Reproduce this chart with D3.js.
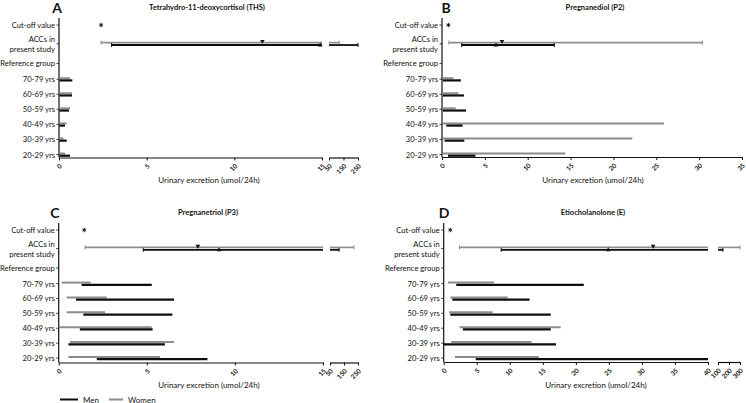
<!DOCTYPE html>
<html><head><meta charset="utf-8">
<script src="https://cdn.jsdelivr.net/npm/d3@7"></script>
<style>
body{margin:0;background:#fff}
svg{display:block}
text{font-family:Lato,"Open Sans",sans-serif;fill:#111}
</style>
</head><body>
<svg id="chart" width="746" height="403"></svg>
<script>
// ---------- data ----------
const rowLabels = ["Cut-off value", "ACCs in|present study", "Reference group",
  "70-79 yrs", "60-69 yrs", "50-59 yrs", "40-49 yrs", "30-39 yrs", "20-29 yrs"];
const ageGroups = ["70-79 yrs", "60-69 yrs", "50-59 yrs", "40-49 yrs", "30-39 yrs", "20-29 yrs"];
const panelLetters = ["A", "B", "C", "D"];
const panelTitles = ["Tetrahydro-11-deoxycortisol (THS)", "Pregnanediol (P2)", "Pregnanetriol (P3)", "Etiocholanolone (E)"];
const xAxisTitle = "Urinary excretion (umol/24h)";
const legendLabels = ["Men", "Women"];

// tick labels
const ticksA = [0, 5, 10, 15], breakTicksA = [50, 150, 250];
const ticksB = [0, 5, 10, 15, 20, 25, 30, 35];
const ticksC = [0, 5, 10, 15], breakTicksC = [50, 150, 250];
const ticksD = [0, 5, 10, 15, 20, 25, 30, 35, 40], breakTicksD = [100, 200, 300];

// THS
const thsCutoff = 2.4;
const thsAccWomen = [2.4, 11.6, 120];   // min, median, max
const thsAccMen = [3.0, 14.9, 250];
const thsRefWomen = [[0.02,0.63],[0.02,0.74],[0.02,0.63],[0.02,0.44],[0.02,0.25],[0.02,0.34]];
const thsRefMen   = [[0.02,0.76],[0.02,0.74],[0.02,0.57],[0.02,0.34],[0.02,0.44],[0.02,0.63]];
// P2
const p2Cutoff = 0.75;
const p2AccWomen = [0.8, 7.0, 30.4];
const p2AccMen = [2.3, 6.3, 13.1];
const p2RefWomen = [[0.1,1.35],[0.1,1.9],[0.1,1.6],[0.1,25.9],[0.1,22.2],[0.1,14.4]];
const p2RefMen   = [[0.1,2.2],[0.1,2.57],[0.1,2.8],[0.5,2.4],[0.3,2.6],[0.7,3.9]];
// P3
const p3Cutoff = 1.45;
const p3AccWomen = [1.5, 7.9, 221];
const p3AccMen = [4.8, 9.1, 115];
const p3RefWomen = [[0.17,1.82],[0.45,2.73],[0.45,2.63],[0.0,5.28],[0.64,6.55],[0.55,5.75]];
const p3RefMen   = [[1.3,5.28],[0.98,6.55],[1.4,6.45],[1.2,5.33],[0.55,6.03],[2.16,8.44]];
// Etiocholanolone
const eCutoff = 1.0;
const eAccWomen = [2.4, 31.7, 300];
const eAccMen = [8.7, 24.9, 145];
const eRefWomen = [[0.65,7.6],[1.0,9.7],[0.8,7.4],[2.4,17.7],[1.15,13.3],[1.7,14.4]];
const eRefMen   = [[1.9,21.2],[1.3,13.0],[1.0,16.2],[2.9,16.2],[0.0,17.0],[4.85,40]];

// ---------- drawing ----------
const svg = d3.select("#chart");
const MEN = "#0d0d0d", WOMEN = "#8c8c8c";
const slots = [0, 1.25, 2.55, 3.6, 4.6, 5.6, 6.6, 7.6, 8.6];

const panels = [
  {letter: panelLetters[0], title: panelTitles[0], x0: 59, x1: 322, dom1: [0, 15], ticks: ticksA,
   x2a: 329, x2b: 358, dom2: [50, 250], ticks2: breakTicksA,
   cutoff: thsCutoff, accW: thsAccWomen, accM: thsAccMen, refW: thsRefWomen, refM: thsRefMen,
   yTop: 25, yBot: 154.5, axisY: 157.5, axisTop: 18, letterX: 57, titleX: 207, labelX: 209},
  {letter: panelLetters[1], title: panelTitles[1], x0: 442, x1: 742, dom1: [0, 35], ticks: ticksB,
   cutoff: p2Cutoff, accW: p2AccWomen, accM: p2AccMen, refW: p2RefWomen, refM: p2RefMen,
   yTop: 25, yBot: 154.5, axisY: 157, axisTop: 18, letterX: 446, titleX: 595, labelX: 593},
  {letter: panelLetters[2], title: panelTitles[2], x0: 58.7, x1: 323, dom1: [0, 15], ticks: ticksC,
   x2a: 330, x2b: 358, dom2: [50, 250], ticks2: breakTicksC,
   cutoff: p3Cutoff, accW: p3AccWomen, accM: p3AccMen, refW: p3RefWomen, refM: p3RefMen,
   yTop: 230, yBot: 358, axisY: 362.5, axisTop: 223, letterX: 55, titleX: 208, labelX: 209},
  {letter: panelLetters[3], title: panelTitles[3], x0: 443.7, x1: 708, dom1: [0, 40], ticks: ticksD,
   x2a: 718, x2b: 740, dom2: [100, 300], ticks2: breakTicksD,
   cutoff: eCutoff, accW: eAccWomen, accM: eAccMen, refW: eRefWomen, refM: eRefMen,
   yTop: 230, yBot: 358, axisY: 362, axisTop: 223, letterX: 444, titleX: 593, labelX: 596}
];

panels.forEach(p => {
  const g = svg.append("g");
  const segs = [{s: d3.scaleLinear().domain(p.dom1).range([p.x0, p.x1]), ticks: p.ticks}];
  if (p.dom2) segs.push({s: d3.scaleLinear().domain(p.dom2).range([p.x2a, p.x2b]), ticks: p.ticks2});
  const y = d3.scaleLinear().domain([0, 8.6]).range([p.yTop, p.yBot]);

  // letter + title
  g.append("text").attr("x", p.letterX).attr("y", p.yTop - 12)
    .attr("text-anchor", "middle").attr("font-size", 14).attr("font-weight", 700).text(p.letter);
  g.append("text").attr("x", p.titleX).attr("y", p.yTop - 15)
    .attr("text-anchor", "middle").attr("font-size", 7.5).attr("font-weight", 700).text(p.title);

  // y axis
  g.append("line").attr("x1", p.x0).attr("x2", p.x0).attr("y1", p.axisTop).attr("y2", p.axisY)
    .attr("stroke", "#111").attr("stroke-width", 1.2);
  rowLabels.forEach((lab, i) => {
    const yy = y(slots[i]);
    g.append("line").attr("x1", p.x0 - 2.5).attr("x2", p.x0).attr("y1", yy).attr("y2", yy)
      .attr("stroke", "#111").attr("stroke-width", 0.8);
    const parts = lab.split("|");
    const t = g.append("text").attr("x", p.x0 - 4).attr("text-anchor", "end").attr("font-size", 7.6);
    parts.forEach((pt, k) => {
      t.append("tspan").attr("x", p.x0 - 4)
        .attr("y", yy + 3 + (k - (parts.length - 1) / 2) * 10).text(pt);
    });
  });

  // x axes (broken)
  segs.forEach(sg => {
    const ax = g.append("g").attr("transform", `translate(0,${p.axisY})`)
      .call(d3.axisBottom(sg.s).tickValues(sg.ticks).tickSize(3).tickSizeOuter(0));
    ax.select(".domain").attr("stroke", "#111").attr("stroke-width", 1.2);
    ax.selectAll(".tick line").attr("stroke", "#111");
    ax.selectAll(".tick text").attr("font-size", 6.5).attr("font-weight", 700)
      .attr("font-family", "Lato, sans-serif").attr("fill", "#111")
      .attr("text-anchor", "end").attr("dy", null).attr("y", 0)
      .attr("transform", "translate(3,9) rotate(-45)");
  });
  g.append("text").attr("x", p.labelX).attr("y", p.axisY + 25.5).attr("text-anchor", "middle")
    .attr("font-size", 8).text(xAxisTitle);

  function range(a, b, yy, color, w, caps) {
    segs.forEach(sg => {
      const [d0, d1] = sg.s.domain();
      if (b < d0 || a > d1) return;
      const xa = sg.s(Math.max(a, d0)), xb = sg.s(Math.min(b, d1));
      g.append("line").attr("x1", xa).attr("x2", xb).attr("y1", yy).attr("y2", yy)
        .attr("stroke", color).attr("stroke-width", w);
      if (caps) {
        [[a, xa], [b, xb]].forEach(([v, xv]) => {
          if (v >= d0 && v <= d1) g.append("line").attr("x1", xv).attr("x2", xv)
            .attr("y1", yy - 2).attr("y2", yy + 2).attr("stroke", color).attr("stroke-width", 1);
        });
      }
    });
  }
  function xOf(v) {
    for (const sg of segs) { const [d0, d1] = sg.s.domain(); if (v >= d0 && v <= d1) return sg.s(v); }
    return null;
  }

  // cut-off
  g.append("path").attr("d", d3.symbol(d3.symbolAsterisk, 14)())
    .attr("transform", `translate(${xOf(p.cutoff)},${y(slots[0])})`)
    .attr("stroke", "#111").attr("stroke-width", 0.9).attr("fill", "none");

  // ACCs
  const ya = y(slots[1]);
  range(p.accW[0], p.accW[2], ya - 1.2, WOMEN, 1.6, true);
  range(p.accM[0], p.accM[2], ya + 1.2, MEN, 1.8, true);
  g.append("path").attr("d", d3.symbol(d3.symbolTriangle, 9)())
    .attr("transform", `translate(${xOf(p.accW[1])},${ya - 2.6}) rotate(180)`).attr("fill", "#111");
  g.append("path").attr("d", d3.symbol(d3.symbolTriangle, 9)())
    .attr("transform", `translate(${xOf(p.accM[1])},${ya + 1.4})`).attr("fill", "#111");

  // reference groups
  ageGroups.forEach((ag, i) => {
    const yy = y(slots[3 + i]);
    range(p.refW[i][0], p.refW[i][1], yy - 1, WOMEN, 2, false);
    range(p.refM[i][0], p.refM[i][1], yy + 1.2, MEN, 2.2, false);
  });
});

// legend
const lg = svg.append("g");
lg.append("line").attr("x1", 60).attr("x2", 78).attr("y1", 399.5).attr("y2", 399.5).attr("stroke", MEN).attr("stroke-width", 2);
lg.append("text").attr("x", 83).attr("y", 402.5).attr("font-size", 8).text(legendLabels[0]);
lg.append("line").attr("x1", 109).attr("x2", 123).attr("y1", 399.5).attr("y2", 399.5).attr("stroke", WOMEN).attr("stroke-width", 2);
lg.append("text").attr("x", 128).attr("y", 402.5).attr("font-size", 8).text(legendLabels[1]);
</script>
</body></html>
